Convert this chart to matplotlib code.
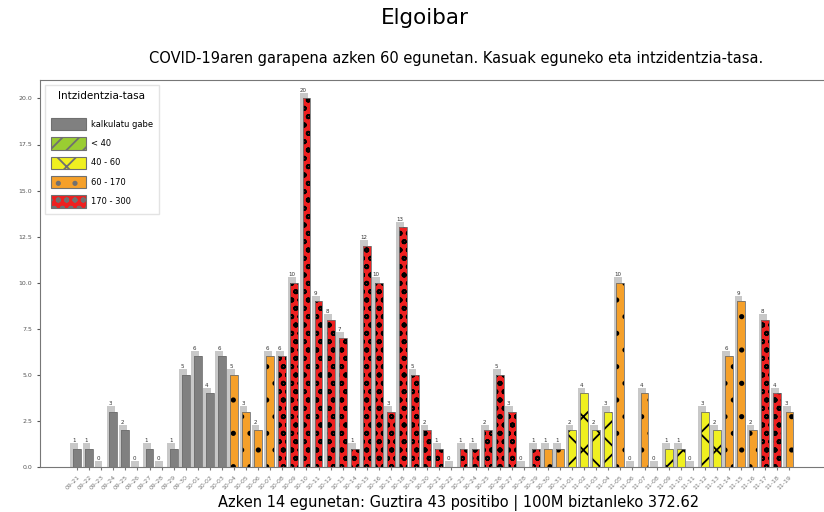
import matplotlib
matplotlib.use("Agg")
import matplotlib.pyplot as plt
from matplotlib.patches import Patch
import pandas as pd

# =========================
# data
# =========================
town = "Elgoibar"
days = pd.date_range("2020-09-21", periods=60, freq="D").strftime("%m-%d").tolist()

cases = [1, 1, 0, 3, 2, 0, 1, 0, 1, 5,
         6, 4, 6, 5, 3, 2, 6, 6, 10, 20,
         9, 8, 7, 1, 12, 10, 3, 13, 5, 2,
         1, 0, 1, 1, 2, 5, 3, 0, 1, 1,
         1, 2, 4, 2, 3, 10, 0, 4, 0, 1,
         1, 0, 3, 2, 6, 9, 2, 8, 4, 3]

levels = ["na", "na", "na", "na", "na", "na", "na", "na", "na", "na",
          "na", "na", "na", "or", "or", "or", "or", "rd", "rd", "rd",
          "rd", "rd", "rd", "rd", "rd", "rd", "rd", "rd", "rd", "rd",
          "rd", "rd", "rd", "rd", "rd", "rd", "rd", "rd", "rd", "or",
          "or", "ye", "ye", "ye", "ye", "or", "or", "or", "or", "ye",
          "ye", "ye", "ye", "ye", "or", "or", "or", "rd", "rd", "or"]

legend_keys = ["na", "gr", "ye", "or", "rd"]
legend_labels = ["kalkulatu gabe", "< 40", "40 - 60", "60 - 170", "170 - 300"]

last14_total = 43
last14_rate = 372.62

# estiloa
fill = {"na": "#808080", "gr": "#9acd32", "ye": "#f0f020", "or": "#f5a02a", "rd": "#ee2020"}
hatch = {"na": "", "gr": "//", "ye": "x", "or": ".", "rd": "oo"}

# =========================
# plot
# =========================
plt.rcParams["hatch.linewidth"] = 1.3
fig = plt.figure(figsize=(8.24, 5.12), dpi=100)
ax = fig.add_axes([40 / 824, 45 / 512, 840 / 824, 387 / 512])

xs = list(range(len(cases)))

# itzala
ax.bar([x - 0.22 for x in xs], [c + 0.3 for c in cases], width=0.65,
       color="#c8c8c8", linewidth=0, zorder=1)

for x, c, lv in zip(xs, cases, levels):
    ax.bar(x, c, width=0.65, color=fill[lv], hatch=hatch[lv],
           edgecolor="black", linewidth=0, zorder=2)
    ax.bar(x, c, width=0.65, fill=False, edgecolor="#707070", linewidth=0.6, zorder=3)
    ax.text(x - 0.25, c + 0.3, str(c), ha="center", va="bottom",
            fontsize=4, color="#333333", zorder=4)

ax.set_xlim(-3.07, 66.5)
ax.set_ylim(0, 21)
ax.set_yticks([0, 2.5, 5, 7.5, 10, 12.5, 15, 17.5, 20])
ax.set_yticklabels(["0.0", "2.5", "5.0", "7.5", "10.0", "12.5", "15.0", "17.5", "20.0"])
ax.tick_params(axis="y", labelsize=4.5, length=2, colors="#555555")

ax.set_xticks(xs)
ax.set_xticklabels(days, rotation=45, ha="right", rotation_mode="anchor")
ax.tick_params(axis="x", labelsize=4.5, length=2, colors="#777777")

for s in ax.spines.values():
    s.set_color("#777777")
    s.set_linewidth(0.8)

# legenda
handles = [Patch(facecolor=fill[k], hatch=hatch[k], edgecolor="#707070", linewidth=0.8)
           for k in legend_keys]
leg = ax.legend(handles, legend_labels, title="Intzidentzia-tasa", loc="upper left",
                bbox_to_anchor=(0.001, 0.997),
                fontsize=6, title_fontsize=7.5, handlelength=4.2, handleheight=1.9,
                labelspacing=0.85, borderpad=0.7, handletextpad=0.6,
                frameon=True, fancybox=False, edgecolor="#dddddd")
leg._legend_box.sep = 12

fig.text(425 / 824, 1 - 18 / 512, town, ha="center", va="center", fontsize=15.5)
fig.text(456 / 824, 1 - 58 / 512,
         "COVID-19aren garapena azken 60 egunetan. Kasuak eguneko eta intzidentzia-tasa.",
         ha="center", va="center", fontsize=10.5)
fig.text(459 / 824, 1 - 503 / 512,
         f"Azken 14 egunetan: Guztira {last14_total} positibo | 100M biztanleko {last14_rate}",
         ha="center", va="center", fontsize=10.5)

fig.savefig("out.png", dpi=100)
